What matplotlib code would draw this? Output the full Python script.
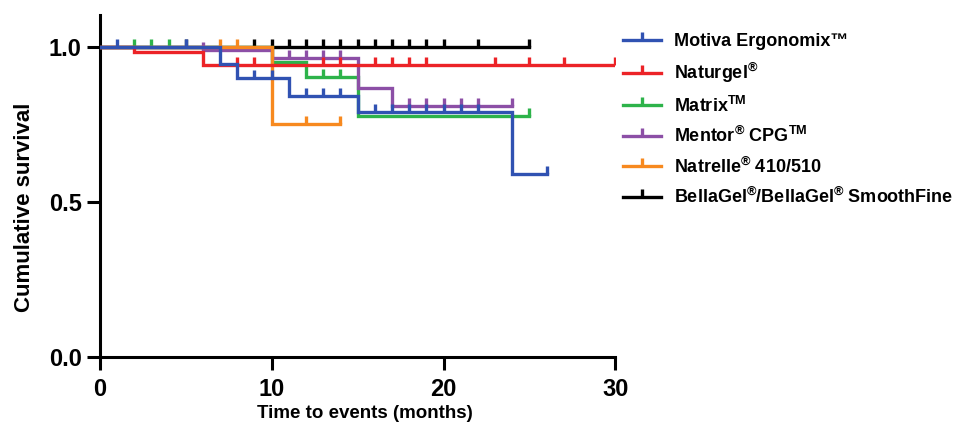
import matplotlib
matplotlib.use("Agg")
import matplotlib.pyplot as plt
import numpy as np
from matplotlib.lines import Line2D

plt.rcParams['font.family'] = ['Liberation Sans', 'DejaVu Sans']
plt.rcParams['font.weight'] = 'bold'
plt.rcParams['mathtext.fontset'] = 'custom'
plt.rcParams['mathtext.rm'] = 'Liberation Sans:bold'
plt.rcParams['mathtext.bf'] = 'Liberation Sans:bold'

# Kaplan-Meier steps: (drop times, survival after drop), end of follow-up, censor times
motiva_t = [0, 7, 8, 11, 15, 24]
motiva_s = [1.0, 0.944, 0.90, 0.842, 0.789, 0.59]
motiva_end = 26
motiva_cens = [1, 5, 9, 10, 12, 13, 14, 16, 17, 18, 19, 20, 21, 22, 26]

naturgel_t = [0, 2, 6]
naturgel_s = [1.0, 0.985, 0.942]
naturgel_end = 30
naturgel_cens = [8, 9, 13, 14, 16, 17, 18, 19, 23, 25, 27, 30]

matrix_t = [0, 10, 12, 15]
matrix_s = [1.0, 0.95, 0.904, 0.778]
matrix_end = 25
matrix_cens = [2, 3, 4, 5, 13, 14, 25]

mentor_t = [0, 6, 10, 15, 17]
mentor_s = [1.0, 0.99, 0.963, 0.867, 0.81]
mentor_end = 24
mentor_cens = [5, 6, 11, 12, 13, 14, 18, 19, 20, 21, 22, 24]

natrelle_t = [0, 10]
natrelle_s = [1.0, 0.75]
natrelle_end = 14
natrelle_cens = [7, 8, 12, 14]

bellagel_t = [0]
bellagel_s = [1.0]
bellagel_end = 25
bellagel_cens = [9, 10, 11, 12, 13, 14, 15, 16, 17, 18, 19, 20, 22, 25]

labels = [
    'Motiva Ergonomix™',
    r'Naturgel$^{\mathbf{®}}$',
    r'Matrix$^{\mathbf{TM}}$',
    r'Mentor$^{\mathbf{®}}$ CPG$^{\mathbf{TM}}$',
    r'Natrelle$^{\mathbf{®}}$ 410/510',
    r'BellaGel$^{\mathbf{®}}$/BellaGel$^{\mathbf{®}}$ SmoothFine',
]
colors = ['#3052B2', '#EC2327', '#2DB34A', '#8C4FA6', '#F7891F', '#000000']

series = [
    (motiva_t, motiva_s, motiva_end, motiva_cens),
    (naturgel_t, naturgel_s, naturgel_end, naturgel_cens),
    (matrix_t, matrix_s, matrix_end, matrix_cens),
    (mentor_t, mentor_s, mentor_end, mentor_cens),
    (natrelle_t, natrelle_s, natrelle_end, natrelle_cens),
    (bellagel_t, bellagel_s, bellagel_end, bellagel_cens),
]

# censor mark: short vertical stroke going up from the line
tick_marker = [(0, 0), (0, 1)]
lw = 2.4

fig = plt.figure(figsize=(9.6, 4.29), dpi=100)
ax = fig.add_axes([0.104, 0.168, 0.537, 0.797])

draw_order = [5, 2, 3, 4, 1, 0]
for i in draw_order:
    t, s, end, cens = series[i]
    x = list(t) + [end]
    y = list(s) + [s[-1]]
    ax.step(x, y, where='post', color=colors[i], lw=lw, solid_joinstyle='miter', zorder=2 + draw_order.index(i))
    idx = np.searchsorted(t, cens, side='right') - 1
    cy = np.array(s)[idx]
    ax.plot(cens, cy, linestyle='none', marker=tick_marker, markersize=11,
            markeredgewidth=lw, markeredgecolor=colors[i], markerfacecolor='none',
            zorder=2 + draw_order.index(i))

ax.set_xlim(0, 30)
ax.set_ylim(0, 1.103)
ax.set_xticks([0, 10, 20, 30])
ax.set_yticks([0, 0.5, 1.0])
ax.set_yticklabels(['0.0', '0.5', '1.0'])
ax.spines['top'].set_visible(False)
ax.spines['right'].set_visible(False)
for sp in ['left', 'bottom']:
    ax.spines[sp].set_linewidth(2.2)
ax.tick_params(axis='both', width=2.2, length=9.5, labelsize=17)
ax.tick_params(axis='x', pad=5.5)
ax.tick_params(axis='y', pad=3.5)
ax.set_xlabel('Time to events (months)', fontsize=13.5, fontweight='bold', labelpad=3)
ax.set_ylabel('Cumulative survival', fontsize=16, fontweight='bold', labelpad=10)
ax.xaxis.label.set_x(0.515)
ax.yaxis.label.set_y(0.439)

handles = [Line2D([0], [0], color=c, lw=lw, marker=tick_marker, markersize=11,
                  markeredgewidth=lw, markeredgecolor=c, markerfacecolor='none')
           for c in colors]
fig.legend(handles, labels, loc='upper left', bbox_to_anchor=(0.632, 0.96),
           frameon=False, handlelength=2.1, handletextpad=0.72,
           labelspacing=0.58, prop={'weight': 'bold', 'size': 13})

fig.savefig('out.png', dpi=100)
